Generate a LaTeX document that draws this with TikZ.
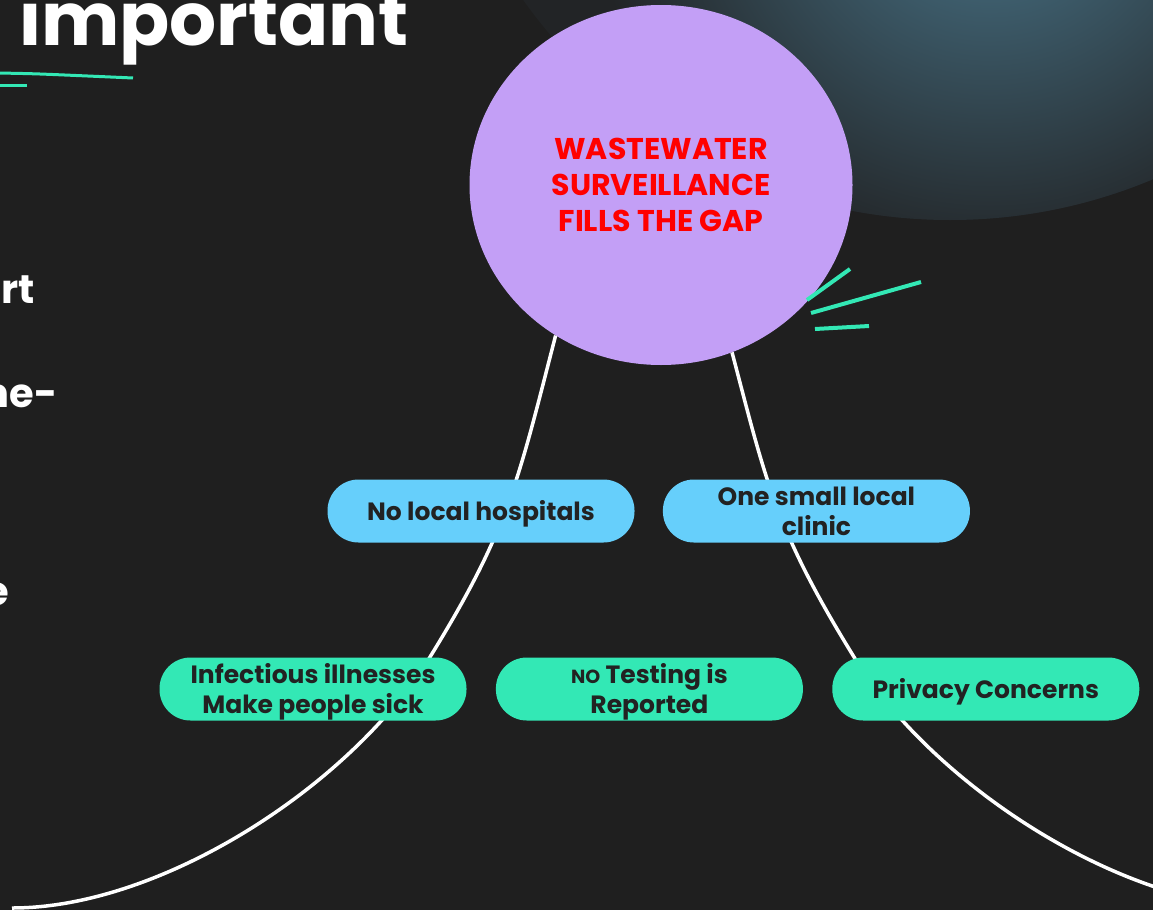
\documentclass[tikz,border=0pt]{standalone}
\usepackage{fontspec}
\setmainfont{Poppins}
\usetikzlibrary{positioning,shapes.geometric}
\definecolor{bgdark}{HTML}{1F1F1F}
\definecolor{lilac}{HTML}{C39FF6}
\definecolor{skyfill}{HTML}{66CFFB}
\definecolor{mint}{HTML}{33E8B5}
\definecolor{inkdark}{HTML}{222222}
\definecolor{alarm}{HTML}{FF0000}
\definecolor{glowtop}{HTML}{4A778C}
\definecolor{glowlow}{HTML}{222426}
% pill text sits a little below the middle
\newcommand{\pilltext}[1]{\raisebox{-3pt}[\height][\depth]{\begin{tabular}{@{}c@{}}#1\end{tabular}}}
\tikzset{
  pill/.style    ={rounded corners=31pt,minimum width=307pt,minimum height=63pt,
                   inner sep=0pt,text=inkdark,
                   font=\fontsize{25}{30}\selectfont\bfseries},
  bluepill/.style={pill,fill=skyfill},
  mintpill/.style={pill,fill=mint},
  branch/.style  ={draw=white,line width=3.5pt},
  stroke/.style  ={draw=mint,line width=4pt},
  side/.style    ={text=white,anchor=base east,inner sep=0pt,
                   font=\fontsize{40}{48}\selectfont\bfseries}
}

\begin{document}
\begin{tikzpicture}[x=1pt,y=-1pt]
  \fill[bgdark] (0,0) rectangle (1153,910);
  \useasboundingbox (0,0) rectangle (1153,910);
  % glow in the top right corner
  \begin{scope}
    \clip (950,-304) circle (524pt);
    \fill[glowlow] (420,0) rectangle (1153,240);
    \shade[inner color=glowtop,outer color=glowlow] (990,-130) circle (400pt);
  \end{scope}
  % title and cut-off words
  \node[anchor=base west,inner sep=0pt,text=white,font=\fontsize{74}{88}\selectfont\bfseries] (title) at (19,45) {important};
  \draw[stroke,line width=3pt] plot[smooth] coordinates {(-5,73) (40,74) (133,78)};
  \draw[stroke,line width=3pt] (-5,85) -- (27,85);
  \node[side] (w1) at (35,303) {rt};
  \node[side] (w2) at (58,407) {ne-};
  \node[side] (w3) at (9,605) {e};
  % hub
  \node[ellipse,fill=lilac,minimum width=383pt,minimum height=360pt,inner sep=0pt,
        align=center,text=alarm,font=\fontsize{30}{36}\selectfont\bfseries] (hub) at (661,185)
        {WASTEWATER\\SURVEILLANCE\\FILLS THE GAP};
  \coordinate (leftbend) at (430,657);
  \coordinate (rightbend) at (854,657);
  \coordinate (leftend) at (12,908);
  \coordinate (rightend) at (1272,908);
  \draw[branch] (hub.235) .. controls (518,481) and (509,529) .. (leftbend)
                          .. controls (351,785) and (162,908) .. (leftend);
  \draw[branch] (hub.293) .. controls (766,481) and (775,529) .. (rightbend)
                          .. controls (933,785) and (1122,908) .. (rightend);
  % branch labels
  \node[bluepill] (hosp) at (481,511) {\pilltext{No local hospitals}};
  \node[bluepill,right=28pt of hosp] (clinic) {\pilltext{One small local\\clinic}};
  \node[mintpill] (sick) at (313,689) {\pilltext{Infectious illnesses\\Make people sick}};
  \node[mintpill,right=29pt of sick] (testing) {\pilltext{{\fontsize{19}{30}\selectfont NO} Testing is\\Reported}};
  \node[mintpill,right=29pt of testing] (privacy) {\pilltext{Privacy Concerns}};
  % accent strokes
  \draw[stroke] (807,300) -- (850,269);
  \draw[stroke] (811,313) -- (921,282);
  \draw[stroke] (815,329) -- (869,326);
\end{tikzpicture}
\end{document}
